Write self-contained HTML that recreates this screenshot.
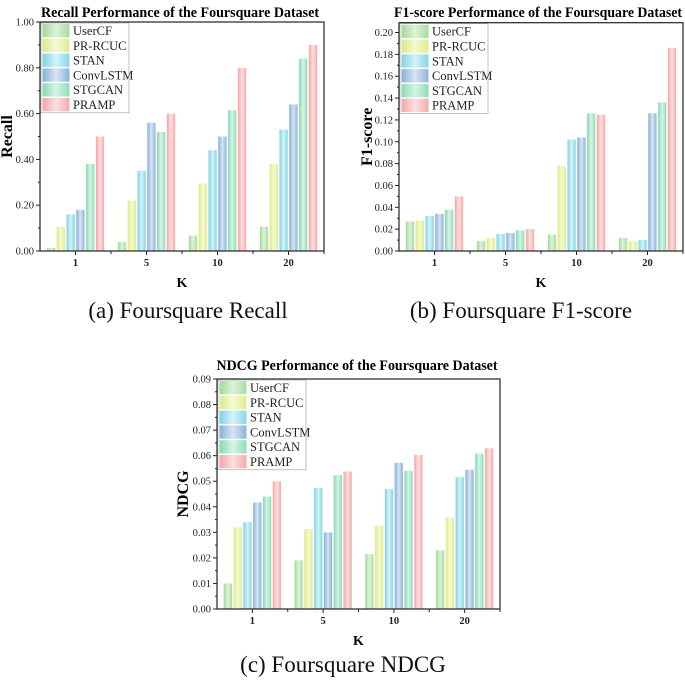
<!DOCTYPE html>
<html><head><meta charset="utf-8"><style>
html,body{margin:0;padding:0;background:#fff;}
svg{display:block;font-family:"Liberation Serif",serif;}
</style></head><body>
<svg id="fig" width="685" height="687" viewBox="0 0 685 687">
<defs>
<linearGradient id="g0" x1="0" x2="1"><stop offset="0" stop-color="#9fd99a"/><stop offset="0.5" stop-color="#dcf4d8"/><stop offset="1" stop-color="#a8dca2"/></linearGradient>
<linearGradient id="g1" x1="0" x2="1"><stop offset="0" stop-color="#dbe98a"/><stop offset="0.5" stop-color="#f5fad0"/><stop offset="1" stop-color="#dfec92"/></linearGradient>
<linearGradient id="g2" x1="0" x2="1"><stop offset="0" stop-color="#7fd3e2"/><stop offset="0.5" stop-color="#d4f3f8"/><stop offset="1" stop-color="#86d6e4"/></linearGradient>
<linearGradient id="g3" x1="0" x2="1"><stop offset="0" stop-color="#86afd8"/><stop offset="0.5" stop-color="#d6e5f3"/><stop offset="1" stop-color="#8cb3da"/></linearGradient>
<linearGradient id="g4" x1="0" x2="1"><stop offset="0" stop-color="#86d9b4"/><stop offset="0.5" stop-color="#d6f4e6"/><stop offset="1" stop-color="#8edcb8"/></linearGradient>
<linearGradient id="g5" x1="0" x2="1"><stop offset="0" stop-color="#f4a4a4"/><stop offset="0.5" stop-color="#fde0e0"/><stop offset="1" stop-color="#f5aaaa"/></linearGradient>
</defs>
</svg>
<script>
const categories = ["1","5","10","20"];
const seriesNames = ["UserCF","PR-RCUC","STAN","ConvLSTM","STGCAN","PRAMP"];
const recallValues = [
  [0.013,0.040,0.067,0.105],
  [0.105,0.220,0.295,0.380],
  [0.160,0.350,0.440,0.530],
  [0.180,0.560,0.500,0.640],
  [0.380,0.520,0.615,0.840],
  [0.500,0.600,0.800,0.900]
];
const f1Values = [
  [0.027,0.009,0.015,0.012],
  [0.028,0.012,0.078,0.009],
  [0.032,0.0155,0.102,0.010],
  [0.034,0.0165,0.104,0.126],
  [0.038,0.019,0.126,0.136],
  [0.050,0.020,0.125,0.186]
];
const ndcgValues = [
  [0.010,0.019,0.0215,0.023],
  [0.032,0.0313,0.0326,0.0357],
  [0.034,0.0474,0.047,0.0516],
  [0.0417,0.030,0.0572,0.0545],
  [0.044,0.0524,0.0541,0.0608],
  [0.050,0.0538,0.0603,0.0629]
];
const recallTicks = ["0.00","0.20","0.40","0.60","0.80","1.00"];
const f1Ticks = ["0.00","0.02","0.04","0.06","0.08","0.10","0.12","0.14","0.16","0.18","0.20"];
const ndcgTicks = ["0.00","0.01","0.02","0.03","0.04","0.05","0.06","0.07","0.08","0.09"];

const svg = document.getElementById('fig');
const NS = 'http://www.w3.org/2000/svg';
function mk(tag, attrs, parent){
  const e = document.createElementNS(NS, tag);
  for (const k in attrs) e.setAttribute(k, attrs[k]);
  (parent||svg).appendChild(e);
  return e;
}
function txt(s, attrs, parent){ const t = mk('text', attrs, parent); t.textContent = s; return t; }

function chart(id, cfg, values, ticks){
  const g = mk('g', {});
  
  
  const {x0,x1,y0,y1,ymax,tickStep} = cfg;
  const ys = v => y0 - (v / ymax) * (y0 - y1);
  const gw = (x1 - x0) / categories.length;
  const xc = i => x0 + gw * (i + 0.5);
  const bw = 8.3, step = 9.8;
  values.forEach((ser, s) => {
    ser.forEach((v, i) => {
      const bx = xc(i) - 3 * step + s * step + (step - bw) / 2;
      const r = mk('rect', {x: bx, y: ys(v), width: bw, height: y0 - ys(v), fill: 'url(#g' + s + ')'}, g);
      
      
    });
  });
  const fr = mk('rect', {x: x0, y: y1, width: x1 - x0, height: y0 - y1, fill: 'none', stroke: '#222', 'stroke-width': 1.2}, g);
  
  
  ticks.forEach((t, i) => {
    const v = i * tickStep;
    const y = ys(v);
    mk('line', {x1: x0 - 4, x2: x0, y1: y, y2: y, stroke: '#222'}, g);
    const mv = ys(v + tickStep / 2);
    if (mv > y1) mk('line', {x1: x0 - 2, x2: x0, y1: mv, y2: mv, stroke: '#222'}, g);
    const tl = txt(t, {x: x0 - 6, y: y + 3.5, 'font-size': 10.5, 'text-anchor': 'end', fill: '#222'}, g);
    
    
  });
  categories.forEach((c, i) => {
    mk('line', {x1: xc(i), x2: xc(i), y1: y0, y2: y0 + 4, stroke: '#222'}, g);
    mk('line', {x1: x0 + gw * (i + 1), x2: x0 + gw * (i + 1), y1: y0, y2: y0 + 3, stroke: '#222'}, g);
    const tl = txt(c, {x: xc(i), y: y0 + 15, 'font-size': 10.5, 'font-weight': 'bold', 'text-anchor': 'middle', fill: '#222'}, g);
    
    
  });
  const xt = txt('K', {x: (x0 + x1) / 2, y: y0 + 36, 'font-size': 14, 'font-weight': 'bold', 'text-anchor': 'middle'}, g);
  
  
  const yt = txt(cfg.ylabel, {x: 0, y: 0, 'font-size': 16, 'font-weight': 'bold', 'text-anchor': 'middle', transform: 'translate(' + cfg.ylx + ',' + ((y0 + y1) / 2) + ') rotate(-90)'}, g);
  
  
  const ti = txt(cfg.title, {x: cfg.tx, y: cfg.ty, 'font-size': 15, 'font-weight': 'bold', 'text-anchor': 'middle', textLength: cfg.tw, lengthAdjust: 'spacingAndGlyphs'}, g);
  
  
  const lg = mk('g', {}, g);
  
  
  const lx = x0 + 1, ly = y1 + 1, lh = 14.8;
  mk('rect', {x: lx, y: ly, width: 88, height: lh * 6 + 1, fill: '#fff', stroke: '#999', 'stroke-width': 0.6}, lg);
  seriesNames.forEach((n, s) => {
    const e = mk('g', {}, lg);
    
    
    mk('rect', {x: lx + 1.5, y: ly + 1 + s * lh, width: 27, height: lh - 1.5, fill: 'url(#g' + s + ')'}, e);
    txt(n, {x: lx + 32, y: ly + 1 + s * lh + 11, 'font-size': 12.5, fill: '#222'}, e);
  });
  const cap = txt(cfg.caption, {x: cfg.cx, y: cfg.cy, 'font-size': 23, 'text-anchor': 'middle', fill: '#111'}, g);
  
  
}

chart('recall', {x0: 40, x1: 324, y0: 251, y1: 22, ymax: 1.0, tickStep: 0.2, ylabel: 'Recall', ylx: 12, title: 'Recall Performance of the Foursquare Dataset', tx: 180, ty: 17, tw: 278, caption: '(a) Foursquare Recall', cx: 188, cy: 318}, recallValues, recallTicks);
chart('f1', {x0: 399, x1: 683, y0: 251, y1: 22.7, ymax: 0.209, tickStep: 0.02, ylabel: 'F1-score', ylx: 372, title: 'F1-score Performance of the Foursquare Dataset', tx: 538, ty: 17, tw: 288, caption: '(b) Foursquare F1-score', cx: 521, cy: 318}, f1Values, f1Ticks);
chart('ndcg', {x0: 217, x1: 500, y0: 609, y1: 379, ymax: 0.09, tickStep: 0.01, ylabel: 'NDCG', ylx: 188, title: 'NDCG Performance of the Foursquare Dataset', tx: 357, ty: 370, tw: 281, caption: '(c) Foursquare NDCG', cx: 343, cy: 672}, ndcgValues, ndcgTicks);
</script>
</body></html>
